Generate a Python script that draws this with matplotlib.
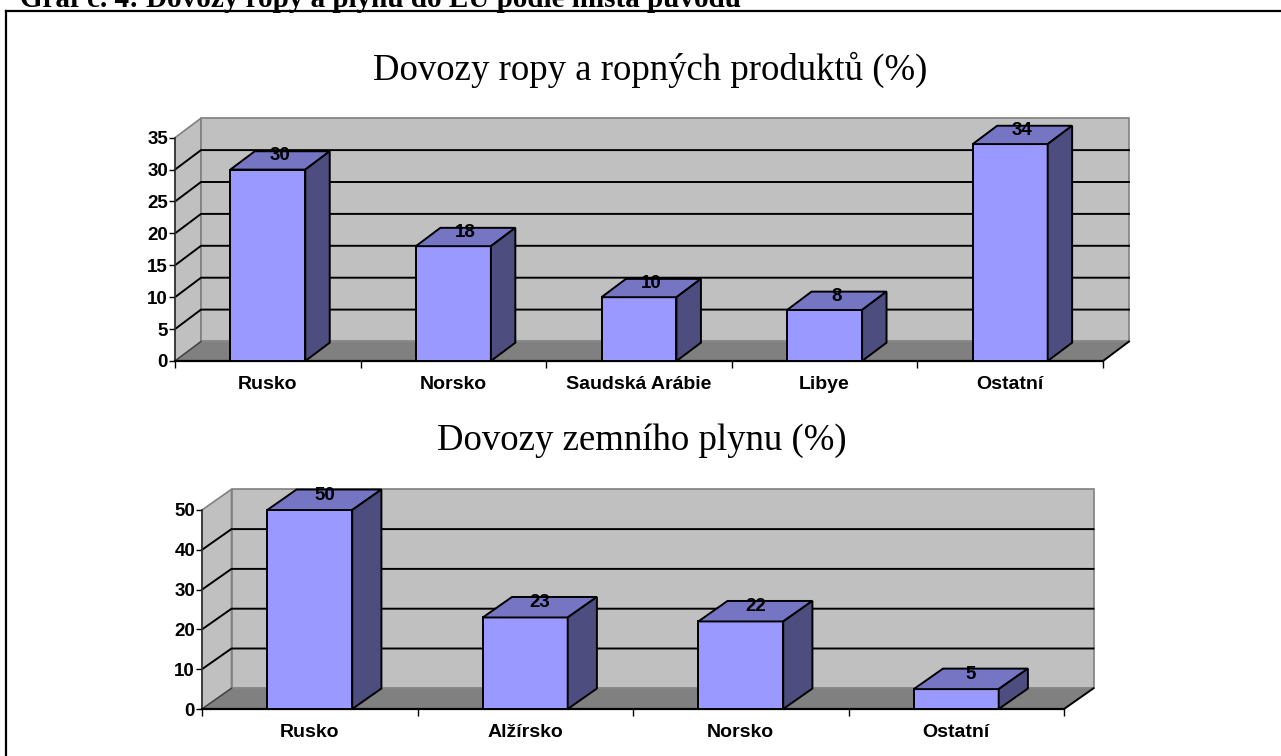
import matplotlib.pyplot as plt
from matplotlib.patches import Polygon
from matplotlib.lines import Line2D
import numpy as np

# data
oil_cats = ['Rusko', 'Norsko', 'Saudská Arábie', 'Libye', 'Ostatní']
oil_vals = [30, 18, 10, 8, 34]
gas_cats = ['Rusko', 'Alžírsko', 'Norsko', 'Ostatní']
gas_vals = [50, 23, 22, 5]

W, H = 1281, 756
FRONT = '#9999FF'
TOP = '#7575C4'
SIDE = '#4D4D80'
WALL = '#C0C0C0'
FLOOR = '#808080'
SANS = 'Liberation Sans'
SERIF = 'Liberation Serif'

fig = plt.figure(figsize=(W / 100, H / 100), dpi=100)


def box(l, r, b, t):
    # pixel box (from top-left) -> figure fraction rect
    return [l / W, 1 - b / H, (r - l) / W, (b - t) / H]


def chart(rect, cats, vals, ymax, step, depth, bar_w, bar_frac):
    ax = fig.add_axes(rect)
    n = len(cats)
    ax.set_xlim(0, n)
    ax.set_ylim(0, ymax)
    ax.patch.set_visible(False)
    # depth offset from pixels to data units
    ddx = depth[0] / (rect[2] * W / n)
    ddy = depth[1] / (rect[3] * H / ymax)

    kw = dict(clip_on=False)
    ax.add_patch(Polygon([(0, 0), (ddx, ddy), (ddx, ymax + ddy), (0, ymax)],
                         fc=WALL, ec='#808080', lw=1.2, zorder=1, **kw))
    ax.add_patch(Polygon([(ddx, ddy), (n + ddx, ddy), (n + ddx, ymax + ddy), (ddx, ymax + ddy)],
                         fc=WALL, ec='#808080', lw=1.2, zorder=1, **kw))
    ax.add_patch(Polygon([(0, 0), (n, 0), (n + ddx, ddy), (ddx, ddy)],
                         fc=FLOOR, ec='none', zorder=1, **kw))
    ticks = np.arange(0, ymax + step / 2, step)
    for t in ticks[1:-1]:
        ax.plot([0, ddx, n + ddx], [t, t + ddy, t + ddy], color='black', lw=1.4, zorder=2, **kw)
    ax.plot([0, ddx], [0, ddy], color='#404040', lw=1, zorder=2, **kw)
    ax.plot([n, n + ddx], [0, ddy], color='black', lw=1.4, zorder=2, **kw)

    bdx, bdy = ddx * bar_frac, ddy * bar_frac
    for i, v in enumerate(vals):
        x0 = i + 0.5 - bar_w / 2
        x1 = x0 + bar_w
        ax.add_patch(Polygon([(x0, 0), (x1, 0), (x1, v), (x0, v)],
                             fc=FRONT, ec='black', lw=1.4, zorder=4, **kw))
        ax.add_patch(Polygon([(x0, v), (x1, v), (x1 + bdx, v + bdy), (x0 + bdx, v + bdy)],
                             fc=TOP, ec='black', lw=1.4, zorder=4, **kw))
        ax.add_patch(Polygon([(x1, 0), (x1 + bdx, bdy), (x1 + bdx, v + bdy), (x1, v)],
                             fc=SIDE, ec='black', lw=1.4, zorder=4, **kw))
        ax.text(i + 0.5 + bdx / 2, v + bdy / 2, str(v), ha='center', va='baseline',
                fontsize=13.5, fontweight='bold', family=SANS, zorder=5)

    for s in ['top', 'right']:
        ax.spines[s].set_visible(False)
    ax.spines['left'].set_color('#303030')
    ax.spines['left'].set_linewidth(1.2)
    ax.spines['bottom'].set_linewidth(1.6)
    ax.spines['left'].set_zorder(3)
    ax.spines['bottom'].set_zorder(3)

    ax.set_yticks(ticks)
    ax.set_yticklabels([f'{t:g}' for t in ticks], fontsize=13.5, fontweight='bold', family=SANS)
    ax.tick_params(axis='y', direction='out', length=4, width=1, pad=1)
    ax.set_xticks(np.arange(n) + 0.5)
    ax.set_xticklabels(cats, fontsize=14, fontweight='bold', family=SANS)
    ax.set_xticks(np.arange(n + 1), minor=True)
    ax.tick_params(axis='x', which='major', length=0, pad=11)
    ax.tick_params(axis='x', which='minor', direction='out', length=5, width=1)
    return ax


chart(box(175, 1103, 361, 137.7), oil_cats, oil_vals, 35, 5, (26, 19.5), 0.404, 0.94)
chart(box(202, 1064, 709, 510), gas_cats, gas_vals, 50, 10, (29.5, 20.7), 0.394, 0.99)

fig.text(650 / W, 1 - 70 / H, 'Dovozy ropy a ropných produktů (%)', ha='center', va='center',
         fontsize=26.5, family=SERIF)
fig.text(642 / W, 1 - 441 / H, 'Dovozy zemního plynu (%)', ha='center', va='center',
         fontsize=26.5, family=SERIF)

# document caption cut off at the top (as in the source page), and the frame around the charts
fig.text(20 / W, 1 - 7 / H, 'Graf č. 4: Dovozy ropy a plynu do EU podle místa původu',
         ha='left', va='baseline', fontsize=21, fontweight='bold', family=SERIF)
fig.add_artist(Line2D([6 / W, 1], [1 - 11 / H, 1 - 11 / H], color='black', lw=1.6))
fig.add_artist(Line2D([6 / W, 6 / W], [0, 1 - 11 / H], color='black', lw=1.6))

fig.savefig('out.png', dpi=100)
